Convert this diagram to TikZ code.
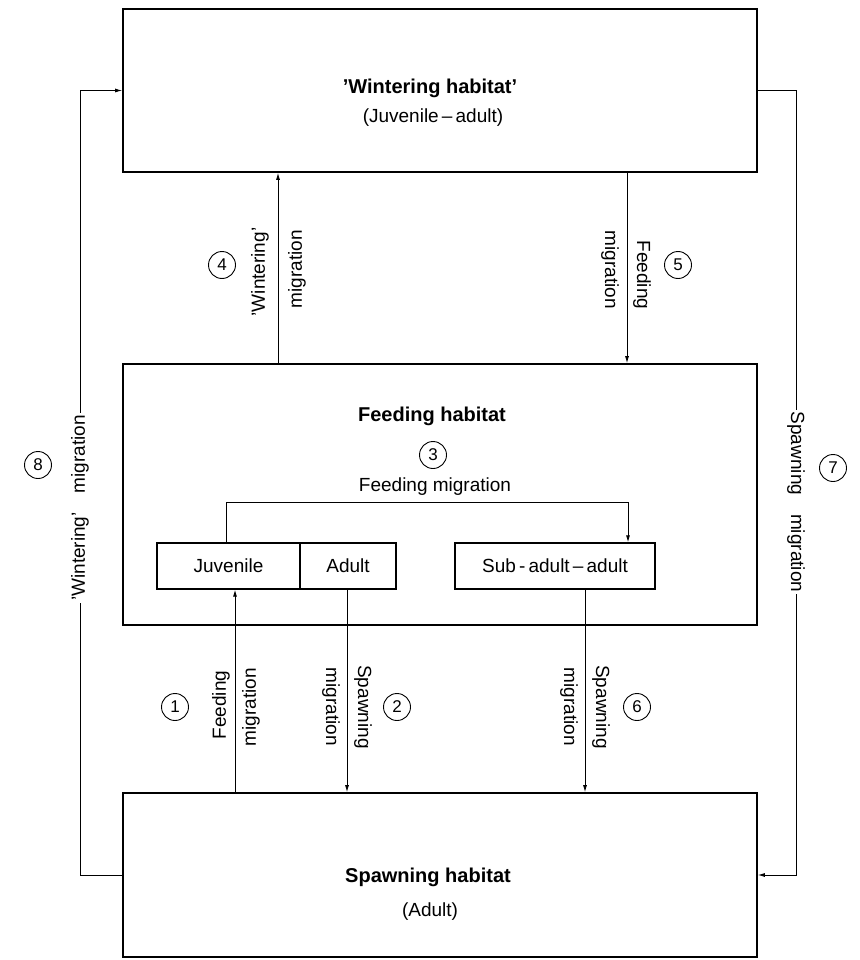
\documentclass[tikz,border=0pt]{standalone}
\usepackage{fontspec}
\setmainfont{Liberation Sans}
\usetikzlibrary{arrows.meta}

\begin{document}
\begin{tikzpicture}[x=1pt,y=-1pt,font=\fontsize{19}{22}\selectfont,
  habitat/.style={draw,line width=1.6pt,minimum width=634pt,inner sep=0pt},
  stage/.style={draw,line width=1.3pt,minimum height=46pt,inner sep=0pt},
  title/.style={font=\bfseries\fontsize{20}{24}\selectfont},
  num/.style={draw,circle,line width=0.9pt,minimum size=27pt,inner sep=0pt,
    font=\fontsize{17}{20}\selectfont},
  onpath/.style={fill=white,inner sep=2pt},
  arr/.style={line width=0.9pt,-{Latex[length=7pt,width=4pt]}}]
  \useasboundingbox (0,0) rectangle (859,960);

  % habitats
  \node[habitat,minimum height=163pt] (wint) at (440,90.5) {};
  \node[habitat,minimum height=261pt] (feed) at (440,494.5) {};
  \node[habitat,minimum height=164pt] (spawn) at (440,875) {};

  \node[title] (wintT) at (430,88) {'Wintering habitat'};
  \node (wintS) at (433,118) {(Juvenile\,--\,adult)};
  \node[title] (feedT) at (432,416) {Feeding habitat};
  \node[num] (n3) at (433,455) {3};
  \node (fmig) at (435,487) {Feeding migration};
  \node[title] (spawnT) at (428,877) {Spawning habitat};
  \node (spawnS) at (430,912) {(Adult)};

  % stages inside the feeding habitat
  \node[stage,minimum width=143pt] (juv) at (228.5,566) {Juvenile};
  \node[stage,minimum width=96pt] (adu) at (348,566) {Adult};
  \node[stage,minimum width=200pt] (sub) at (555,566) {Sub\,-\,adult\,--\,adult};

  % where the connectors run
  \coordinate (c1) at (235,0);
  \coordinate (c2) at (347,0);
  \coordinate (c4) at (278,0);
  \coordinate (c5) at (627,0);
  \coordinate (c6) at (585,0);
  \coordinate (c7) at (796,0);
  \coordinate (c8) at (80,0);
  \coordinate (b1) at (226,502);
  \coordinate (b2) at (628,502);

  \draw[arr] (spawn.north -| c1) -- (juv.south -| c1);
  \draw[arr] (adu.south -| c2) -- (spawn.north -| c2);
  \draw[arr] (sub.south -| c6) -- (spawn.north -| c6);
  \draw[arr] (feed.north -| c4) -- (wint.south -| c4);
  \draw[arr] (wint.south -| c5) -- (feed.north -| c5);
  \draw[arr] (juv.north -| b1) -- (b1) -- (b2) -- (sub.north -| b2);
  \draw[arr] (spawn.west) -- (spawn.west -| c8) -- (wint.west -| c8) -- (wint.west);
  \draw[arr] (wint.east) -- (wint.east -| c7) -- (spawn.east -| c7) -- (spawn.east);

  % labels of the migrations
  \node[onpath,rotate=90] (l8) at (80,508) {'Wintering'\quad migration};
  \node[onpath,rotate=-90] (l7) at (796,502) {Spawning\quad migration};
  \node[num] (n8) at (38,465) {8};
  \node[num] (n7) at (833,468) {7};

  \node[rotate=90] (l4a) at (260,272) {'Wintering'};
  \node[rotate=90] (l4b) at (297,269) {migration};
  \node[num] (n4) at (222,265) {4};
  \node[rotate=-90] (l5a) at (610,270) {migration};
  \node[rotate=-90] (l5b) at (642,275) {Feeding};
  \node[num] (n5) at (678,265) {5};

  \node[rotate=90] (l1a) at (221,705) {Feeding};
  \node[rotate=90] (l1b) at (251,707) {migration};
  \node[num] (n1) at (175,707) {1};
  \node[rotate=-90] (l2a) at (331,707) {migration};
  \node[rotate=-90] (l2b) at (363,707) {Spawning};
  \node[num] (n2) at (397,707) {2};
  \node[rotate=-90] (l6a) at (569,707) {migration};
  \node[rotate=-90] (l6b) at (601,707) {Spawning};
  \node[num] (n6) at (637,707) {6};
\end{tikzpicture}
\end{document}
